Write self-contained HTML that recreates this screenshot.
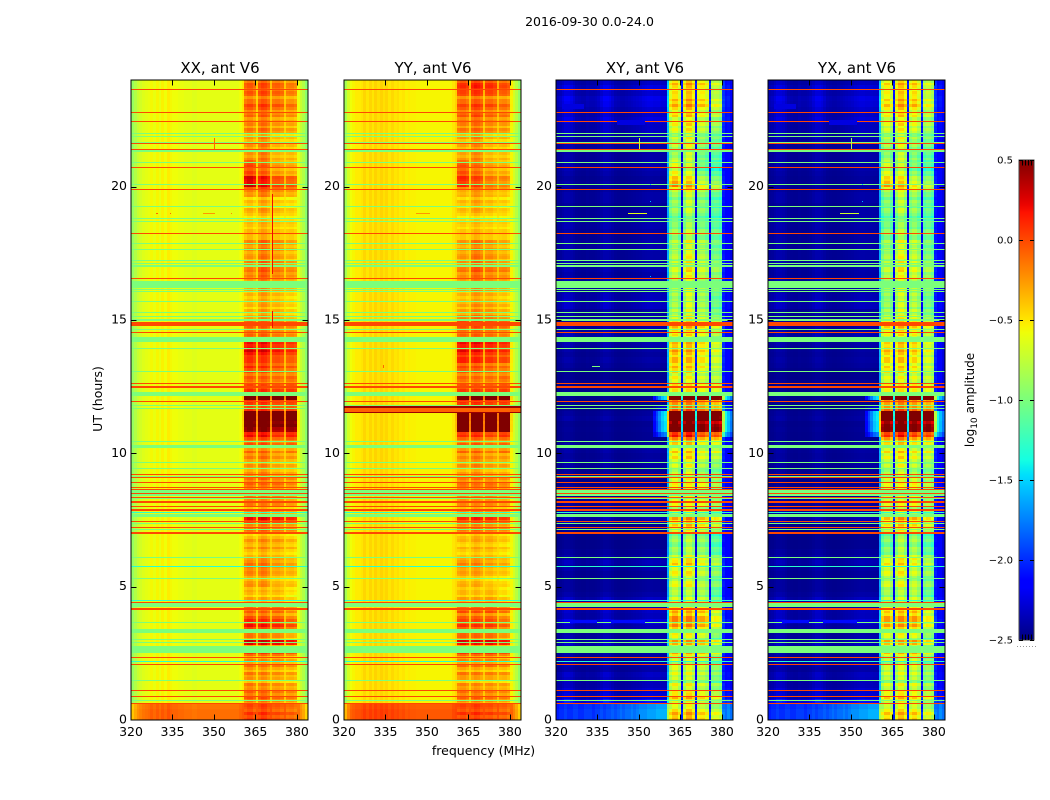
<!DOCTYPE html>
<html lang="en">
<head>
<meta charset="utf-8">
<title>2016-09-30 amplitude waterfall, ant V6</title>
<style>
html,body{margin:0;padding:0;background:#fff;width:1050px;height:800px;overflow:hidden}
svg{display:block}
text{font-family:"DejaVu Sans","Liberation Sans",sans-serif;fill:#000}
</style>
</head>
<body>
<svg id="fig" xmlns="http://www.w3.org/2000/svg" width="1050" height="800" viewBox="0 0 1050 800">
  <rect x="0" y="0" width="1050" height="800" fill="#fff"/>
  <text x="589.5" y="26" font-size="12.5" text-anchor="middle">2016-09-30 0.0-24.0</text>
  <text transform="translate(102,399) rotate(-90)" font-size="12.5" text-anchor="middle">UT (hours)</text>
  <text x="483.5" y="755" font-size="12.5" text-anchor="middle">frequency (MHz)</text>
  <text transform="translate(974,400) rotate(-90)" font-size="12" text-anchor="middle">log<tspan font-size="9" dy="3">10</tspan><tspan dy="-3"> amplitude</tspan></text>
  <g id="panels"></g>
  <g id="cbar"></g>
</svg>
<script>
// ---- chart data (log10 amplitude, UT hours, MHz) ----
const panelTitles = ['XX, ant V6','YY, ant V6','XY, ant V6','YX, ant V6'];
const xTickLabels = [320,335,350,365,380];
const yTickLabels = [0,5,10,15,20];
const colorbarTicks = [0.5,0.0,-0.5,-1.0,-1.5,-2.0,-2.5];

// one value per 1 MHz channel, 320..383
const profileXX = [-.9,-.8,-.72,-.68,-.64,-.62,-.6,-.56,-.6,-.55,-.6,-.54,-.58,-.52,-.56,-.58,-.58,-.6,-.6,-.62,-.62,-.62,-.64,-.64,-.62,-.62,-.62,-.62,-.62,-.62,-.62,-.62,-.62,-.62,-.62,-.62,-.62,-.62,-.62,-.58,-.52,-.28,-.22,-.22,-.3,-.45,-.25,-.18,-.2,-.28,-.42,-.28,-.26,-.26,-.3,-.45,-.3,-.28,-.28,-.33,-.6,-.72,-.8,-.95];
const profileYY = [-.85,-.68,-.58,-.55,-.52,-.52,-.5,-.45,-.5,-.45,-.5,-.44,-.48,-.44,-.48,-.45,-.5,-.46,-.5,-.48,-.52,-.5,-.54,-.52,-.54,-.54,-.55,-.55,-.55,-.55,-.55,-.55,-.55,-.55,-.55,-.55,-.55,-.55,-.55,-.5,-.45,-.26,-.22,-.22,-.28,-.42,-.24,-.18,-.2,-.26,-.42,-.24,-.22,-.22,-.28,-.42,-.26,-.24,-.24,-.3,-.55,-.68,-.78,-.92];
const profileXY = [-2.5,-2.5,-2.5,-2.5,-2.5,-2.5,-2.5,-2.5,-2.5,-2.5,-2.5,-2.5,-2.5,-2.5,-2.5,-2.5,-2.5,-2.5,-2.5,-2.5,-2.5,-2.5,-2.5,-2.5,-2.5,-2.5,-2.5,-2.5,-2.5,-2.5,-2.5,-2.5,-2.5,-2.5,-2.5,-2.5,-2.5,-2.5,-2.5,-2.5,-1.7,-.92,-.75,-.75,-.95,-2.2,-.92,-.68,-.68,-.88,-2.2,-.88,-.82,-.82,-.95,-2.15,-1.0,-.92,-.95,-1.05,-2.1,-2.2,-2.2,-2.3];
const profileYX = [-2.5,-2.5,-2.5,-2.5,-2.5,-2.5,-2.5,-2.5,-2.5,-2.5,-2.5,-2.5,-2.5,-2.5,-2.5,-2.5,-2.5,-2.5,-2.5,-2.5,-2.5,-2.5,-2.5,-2.5,-2.5,-2.5,-2.5,-2.5,-2.5,-2.5,-2.5,-2.5,-2.5,-2.5,-2.5,-2.5,-2.5,-2.5,-2.5,-2.5,-1.7,-1.0,-.82,-.82,-1.0,-2.2,-.92,-.7,-.7,-.88,-2.2,-.88,-.75,-.75,-.92,-2.15,-.98,-.88,-.9,-1.02,-2.1,-2.2,-2.2,-2.3];

// band response per channel
const gainAuto = [0,0,0,0,0,0,0,0,0,0,0,0,0,0,0,0,0,0,0,0,0,0,0,0,0,0,0,0,0,0,0,0,0,0,0,0,0,0,0,0,.1,1,1,1,1,.3,1,1,1,1,.3,1,1,1,1,.3,1,1,1,1,.1,0,0,0];
const gainCross = [0,0,0,0,0,0,0,0,0,0,0,0,0,0,0,0,0,0,0,0,0,0,0,0,0,0,0,0,0,0,0,0,0,0,0,0,0,0,0,0,.15,1,1,1,1,.55,1,1,1,1,.55,1,1,1,1,.55,1,1,1,1,.2,0,0,0];
const bgShape = [.5,.6,.8,1,1,.9,.7,.5,.45,.4,.4,.5,.45,.45,.5,.6,.8,1,1,.9,.7,.5,.45,.4,.4,.45,.5,.55,.6,.65,.7,.8,.85,.9,.9,.85,.85,.85,.8,.8,.6,0,0,0,0,0,0,0,0,0,0,0,0,0,0,0,0,0,0,0,.3,.4,.5,.5];
const wingShape = [0,0,0,0,0,0,0,0,0,0,0,0,0,0,0,0,0,0,0,0,0,0,0,0,0,0,0,0,0,0,0,0,0,0,0,.3,.5,.7,.9,1,1,0,0,0,0,0,0,0,0,0,0,0,0,0,0,0,0,0,0,0,1,.8,.6,.5];
// first-rows brightening of the cross hands per channel
const bottomCross = [.45,.5,.5,.55,.5,.5,.55,.55,.5,.5,.55,.55,.55,.5,.55,.55,.6,.55,.6,.6,.65,.6,.65,.7,.65,.7,.7,.75,.7,.75,.8,.8,.8,.85,.85,.85,.9,.9,.9,.9,.85,0,0,0,0,0,0,0,0,0,0,0,0,0,0,0,0,0,0,0,.3,.4,.5,.5];

// one value per 0.2 h of UT, from 0 h upwards
const bandXX = [.1,.1,.05,.1,.15,.15,.05,0,.05,0, .1,0,.25,.1,.45,.05,0,.3,.3,.1, .2,.1,-.05,-.1,-.05,0,0,.05,.1,.1, .05,-.05,.05,.05,-.05,.1,.1,.45,.05,0, .1,.15,.1,.1,.15,.1,.05,0,0,.1, .1,.2,.25,.45,.65,.8,.85,.9,.3,.3, .85,.35,.2,.15,.15,.2,.3,.3,.35,.5, .45,.2,.1,.15,.15,0,0,-.05,-.05,-.05, 0,0,.05,.15,.15,.15,.05,.05,.1,.1, .05,0,0,0,-.05,-.05,-.1,-.1,.05,.25, .4,.35,.15,.15,.1,.05,.05,.05,0,0, .05,.05,.05,.1,.15,.2,.1,.15,.2,.15];
const bandYY = [.08,.1,.05,.05,.1,.1,0,-.05,.05,-.05, .1,0,.25,.1,.4,.1,.05,.2,.2,.05, .25,.1,-.05,-.1,-.1,-.1,-.1,-.05,0,.05, 0,-.1,-.05,-.05,-.05,.05,.05,.35,0,0, .05,.1,.05,.1,.1,.05,0,0,0,.05, .1,.15,.15,.35,.8,.85,.9,.9,.35,.3, .9,.3,.15,.1,.1,.15,.2,.35,.3,.45, .45,.2,.1,.2,.25,.1,.05,0,-.05,-.05, 0,0,.05,.1,.15,.1,.05,.05,.05,.05, 0,-.05,-.05,-.05,-.1,-.1,-.1,-.1,-.05,.1, .2,.2,.1,.1,.05,0,0,0,-.05,0, .05,.05,.1,.15,.15,.2,.1,.2,.35,.25];
const bandXY = [.35,.35,0,.1,.25,.1,.05,-.05,0,.05, 0,-.05,.3,.1,.3,0,0,.3,.4,.3, .4,.1,0,-.1,-.05,.05,0,.1,.1,.25, .2,-.1,-.1,-.1,-.15,0,.3,.4,0,0, .1,.2,.1,.1,.1,0,0,0,.05,.2, .2,.2,.5,.85,1.35,1.3,1.45,1.55,.6,.45, 1.5,.2,.1,.05,.05,.15,.25,.3,.2,.4, .35,.1,.1,.3,.2,.1,.05,-.05,-.05,-.05, 0,0,-.05,.05,.1,.1,0,0,0,0, -.05,0,-.05,-.1,-.15,-.15,-.15,-.15,-.1,.2, .3,.05,-.05,-.15,-.1,-.1,-.1,0,0,0, 0,.1,.05,.15,.15,.3,.3,.1,.2,.25];
const bandYX = [.3,.32,0,.1,.22,.1,.05,-.05,0,.05, 0,-.05,.28,.1,.3,0,0,.28,.38,.28, .35,.1,0,-.1,-.05,.05,0,.1,.1,.22, .2,-.1,-.1,-.1,-.15,0,.28,.38,0,0, .1,.18,.1,.1,.1,0,0,0,.05,.18, .2,.2,.5,.85,1.35,1.3,1.45,1.55,.6,.45, 1.5,.2,.1,.05,.05,.15,.22,.28,.2,.38, .32,.1,.1,.28,.2,.1,.05,-.05,-.05,-.05, 0,0,-.05,.05,.1,.1,0,0,0,0, -.05,0,-.05,-.1,-.15,-.15,-.15,-.15,-.1,.18, .28,.05,-.05,-.15,-.1,-.1,-.1,0,0,0, 0,.1,.05,.12,.15,.28,.28,.1,.18,.22];
const bgXY = [0,0,0,.8,.45,.4,.3,.3,.35,.2, .25,.2,.2,.3,.35,.25,.2,.3,.5,.3, .35,.3,.35,.2,.15,.15,.15,.15,.2,.3, .2,.15,.1,.1,.1,.12,.12,.3,.2,.2, .15,.2,.1,.15,.1,.1,.15,.2,.2,.15, .2,.2,.1,.1,.12,.1,.2,.15,.1,.1, .1,.1,.1,.12,.1,.1,.15,.2,.15,.2, .25,.3,.3,.25,.15,.2,.2,.35,.35,.3, .25,.3,.25,.2,.25,.25,.2,.2,.25,.25, .2,.2,.25,.25,.2,.2,.15,.2,.2,.15, .2,.15,.2,.25,.25,.2,.2,.25,.25,.3, .35,.35,.5,.4,.4,.5,.55,.4,.5,.35];
const bgYX = [0,0,0,.8,.42,.4,.3,.3,.32,.2, .25,.2,.2,.3,.32,.25,.2,.28,.45,.3, .32,.3,.32,.2,.15,.15,.15,.15,.18,.28, .2,.15,.1,.1,.1,.12,.12,.28,.2,.2, .15,.18,.1,.15,.1,.1,.15,.18,.18,.15, .18,.18,.1,.1,.12,.1,.18,.15,.1,.1, .1,.1,.1,.12,.1,.1,.15,.18,.15,.18, .22,.28,.28,.22,.15,.18,.18,.32,.32,.28, .22,.28,.22,.2,.22,.22,.2,.2,.22,.22, .2,.2,.22,.22,.2,.2,.15,.2,.2,.15, .18,.15,.18,.22,.22,.2,.2,.22,.22,.28, .32,.32,.45,.38,.38,.45,.5,.38,.45,.32];
const bgScale = 0.6;
// broadband lift at start of the day (first rows only)
const wideAuto = [.5,.5,.48];
const wideCross = [1,1,.95];
// autocorrelation band sits a little lower outside the main burst
const autoBandOffset = -0.08;
const autoFineScale = 0.7;

// finer streak structure in the active band: one value per 0.1 h
const fineStreak = [.05,-.05,.1,-.1,.05,.1,-.1,.05,.15,-.05,.1,-.1,.0,.15,-.15,.1,-.05,.15,-.1,.05,.1,-.15,.15,-.05,-.1,.15,.05,-.15,.1,.2,
-.15,.1,.15,-.1,-.05,.2,-.1,.1,.2,-.05,.05,-.1,.1,.05,-.05,.1,-.1,.05,.05,-.05,.1,.05,-.1,-.05,.05,.1,-.05,.05,.1,-.05,
.05,-.05,-.05,.05,.1,-.1,-.05,.1,.05,-.1,.05,.15,-.05,.05,-.15,.1,.15,-.05,.1,-.1,.05,.05,-.1,-.05,.1,.05,-.05,.05,.1,-.1,
.15,-.05,.05,-.1,.05,.15,-.1,.05,.1,-.05,.15,-.1,.05,.1,-.15,.05,.05,-.05,.0,.05,.05,-.1,.1,.0,.05,-.05,.1,-.05,.05,.1,
-.05,.1,-.15,.05,.1,.15,-.1,.05,.15,-.05,.1,.05,.1,-.1,.05,.05,-.05,.1,.05,-.1,-.05,.05,.1,-.05,.15,.05,-.05,.1,-.1,.05,
.1,.05,-.1,.05,-.1,.1,.05,.05,-.05,.1,-.1,.05,.05,-.05,.0,.1,.05,-.05,.1,.05,-.05,.05,-.1,.1,.05,-.05,.05,-.1,.05,.1,
-.05,-.05,.05,.05,-.1,.0,.05,-.05,-.1,.05,.1,.15,-.1,.05,.15,-.05,.1,.05,-.1,.05,.1,-.05,.05,.1,-.05,.05,-.1,.05,.05,-.05,
.1,-.05,.05,.1,-.1,.05,.15,-.05,.1,-.1,.05,.15,-.1,.1,.05,-.05,.15,.05,-.1,.1,.15,-.05,.1,-.1,.1,.15,-.05,.05,.15,-.05];
// slower per-sub-band drift: one value per hour of UT
const tiltSub1 = [.05,.05,.05,.1,.05,.05,-.05,0,.05,0,.05,.05,.05,.1,.05,-.05,-.05,-.05,-.1,-.05,.25,0,.05,.05];
const tiltSub2 = [.05,0,0,.05,0,.05,0,.05,0,.05,.05,.05,0,.05,.05,.05,.1,.1,-.05,.05,.1,.1,.1,.1];
const tiltSub3 = [0,0,.05,.05,.05,-.05,0,0,.05,-.05,-.05,0,0,0,0,0,0,0,-.1,-.05,-.1,-.1,0,.05];
const tiltSub4 = [-.05,-.05,-.05,-.1,-.1,-.1,-.1,-.05,-.05,-.05,.05,.05,.05,-.05,-.05,-.1,-.05,-.1,-.1,-.1,-.15,-.1,-.05,-.05];

// flagged integrations: amplitude levels and UT hours
const redLevel = 0.0;
const greenLevel = -1.0;
const cyanLevel = -1.3;
const redLineUT = [23.65,22.79,22.45,21.63,21.40,20.73,19.90,18.25,16.56,14.78,14.54,12.63,11.95,9.20,9.09,8.91,8.71,8.63,8.51,8.36,8.01,7.91,7.86,7.43,7.23,4.41,2.33,2.09,1.11,0.89,0.63];
const greenLineUT = [22.00,21.89,21.66,20.91,20.09,19.25,18.81,18.70,17.88,17.65,17.24,17.13,16.16,16.05,15.70,15.29,15.14,14.63,13.94,13.08,11.80,11.69,10.45,9.66,9.44,9.15,8.29,7.38,7.15,6.10,5.31,3.66,3.03,2.91,1.49,0.74];
const cyanLineUT = [7.80,5.75,4.49,2.19];
const redBandStart = [14.81,12.44,8.11,6.94,4.10];
const redBandEnd = [14.89,12.51,8.18,7.02,4.17];
const greenBandStart = [21.30,16.97,16.19,14.96,14.15,12.15,10.20,8.37,7.60,4.21,3.26,2.49];
const greenBandEnd = [21.38,17.03,16.46,15.01,14.33,12.27,10.31,8.66,7.69,4.39,3.38,2.74];

// isolated features (panel index, frequency span, UT span, level)
const speckPanel =   [0,0,0,0,0,0,0,1,1,1,1,1,2,2,2,2,2,2,2,2,2,2,2,3,3,3,3,3,3,3,3];
const speckMHzFrom = [350,371,371,329,334,346,356,346,334,320,320,320,346,335,354,354,354,350,325,340,322,342,333,346,354,354,350,325,340,322,342];
const speckMHzTo =   [350.4,371.4,371.4,329.6,334.6,350.5,356.6,351,334.6,384,384,384,353,336,354.5,354.5,354.5,350.4,335,352,330,352,336,353,354.5,354.5,350.4,335,352,330,352];
const speckUTFrom =  [21.4,16.7,14.7,18.95,18.95,18.95,18.95,18.95,13.2,11.5,11.7,11.49,18.95,13.22,20.05,19.4,16.6,21.4,3.62,3.62,22.9,22.3,13.22,18.95,20.05,19.4,21.4,3.62,3.62,22.9,22.3];
const speckUTTo =    [21.8,19.7,15.3,19.0,19.0,19.0,19.0,19.0,13.3,11.7,11.74,11.53,19.0,13.27,20.1,19.45,16.65,21.8,3.74,3.74,23.1,22.5,13.27,19.0,20.1,19.45,21.8,3.74,3.74,23.1,22.5];
const speckLevel =   [-.1,.2,.2,-.1,-.1,-.25,-.2,-.25,-.1,-.08,.42,.42,-.62,-1.0,-1.6,-1.6,-1.6,-.7,-2.1,-2.1,-2.25,-2.25,-1.0,-.7,-1.6,-1.6,-.8,-2.1,-2.1,-2.25,-2.25];

// ---- layout ----
const SVGNS = 'http://www.w3.org/2000/svg';
const panelLeft = [131,344,556,768];
const plotW = 177, plotTop = 80, plotBottom = 720;
const rowHours = 0.2, rowCount = 120, chanCount = 64;
const fMin = 320, fMax = 384, utMax = 24;

function xAxis(p, mhz){ return panelLeft[p] + (mhz - fMin) / (fMax - fMin) * plotW; }
function yAxis(ut){ return plotBottom - ut / utMax * (plotBottom - plotTop); }

function interp(t, pts){
  for (let i = 1; i < pts.length; i++) {
    if (t <= pts[i][0]) {
      const a = pts[i-1], b = pts[i];
      return a[1] + (b[1]-a[1]) * (t-a[0]) / (b[0]-a[0]);
    }
  }
  return pts[pts.length-1][1];
}
const jetR = [[0,0],[.35,0],[.66,1],[.89,1],[1,.5]];
const jetG = [[0,0],[.125,0],[.375,1],[.64,1],[.91,0],[1,0]];
const jetB = [[0,.5],[.11,1],[.34,1],[.65,0],[1,0]];
function jet(t){
  t = Math.max(0, Math.min(1, t));
  return 'rgb(' + Math.round(interp(t,jetR)*255) + ',' + Math.round(interp(t,jetG)*255) + ',' + Math.round(interp(t,jetB)*255) + ')';
}
function colorOf(v){ return jet((v + 2.5) / 3); }

function tiltFor(ch, r){
  const hour = Math.min(23, Math.floor(r * rowHours));
  if (ch >= 41 && ch <= 44) return tiltSub1[hour];
  if (ch >= 46 && ch <= 49) return tiltSub2[hour];
  if (ch >= 51 && ch <= 54) return tiltSub3[hour];
  if (ch >= 56 && ch <= 59) return tiltSub4[hour];
  return 0;
}

function cellValue(p, ch, r, half){
  const fine = fineStreak[r * 2 + half] + tiltFor(ch, r);
  if (p === 0 || p === 1) {
    const prof = p === 0 ? profileXX : profileYY;
    const band = p === 0 ? bandXX : bandYY;
    const wide = r < wideAuto.length ? wideAuto[r] * (1 - .6 * gainAuto[ch]) : 0;
    const level = band[r] >= .6 ? band[r] : band[r] + autoBandOffset;
    return prof[ch] + gainAuto[ch] * (level + autoFineScale * fine) + wide;
  }
  const prof = p === 2 ? profileXY : profileYX;
  const band = p === 2 ? bandXY : bandYX;
  const bg = p === 2 ? bgXY : bgYX;
  const lift = band[r] > .5 ? Math.min(1, (band[r] - .5) * 2) : 0;
  const bottom = r < wideCross.length ? wideCross[r] * bottomCross[ch] : 0;
  return prof[ch] + gainCross[ch] * (band[r] + fine) + bgScale * bgShape[ch] * bg[r] + wingShape[ch] * lift + bottom;
}

function addBar(parent, p, ut0, ut1, level){
  const y0 = Math.floor(yAxis(ut1));
  const y1 = Math.floor(yAxis(ut0));
  const x0 = Math.round(xAxis(p, fMin));
  const r = document.createElementNS(SVGNS,'rect');
  
  
  r.setAttribute('x', x0);
  r.setAttribute('y', y0);
  r.setAttribute('width', Math.round(xAxis(p, fMax)) - x0);
  r.setAttribute('height', Math.max(1, y1 - y0));
  r.setAttribute('fill', colorOf(level));
  parent.appendChild(r);
}

function addLine(parent, name, x1, y1, x2, y2, color, width){
  const l = document.createElementNS(SVGNS,'line');
  
  
  l.setAttribute('x1', x1);
  l.setAttribute('y1', y1);
  l.setAttribute('x2', x2);
  l.setAttribute('y2', y2);
  l.setAttribute('stroke', color);
  l.setAttribute('stroke-width', width || 1);
  parent.appendChild(l);
}

function addText(parent, name, x, y, size, anchor, str){
  const t = document.createElementNS(SVGNS,'text');
  
  
  t.setAttribute('x', x);
  t.setAttribute('y', y);
  t.setAttribute('font-size', size);
  t.setAttribute('text-anchor', anchor);
  t.textContent = str;
  parent.appendChild(t);
}

const panelsRoot = document.getElementById('panels');
panelTitles.forEach(function(title, p){
  const g = document.createElementNS(SVGNS,'g');
  
  
  panelsRoot.appendChild(g);

  const cells = document.createElementNS(SVGNS,'g');
  
  
  cells.setAttribute('shape-rendering', 'crispEdges');
  g.appendChild(cells);

  for (let r = 0; r < rowCount; r++) {
    const yTop = Math.round(yAxis((r + 1) * rowHours));
    const yBot = Math.round(yAxis(r * rowHours));
    const yMid = Math.round((yTop + yBot) / 2);
    for (let ch = 0; ch < chanCount; ch++) {
      let x0 = Math.round(xAxis(p, fMin + ch));
      let x1 = Math.round(xAxis(p, fMin + ch + 1));
      // the stripe channels are narrower than a full channel
      if (gainCross[ch] === .55) x0 += 1;
      if (gainCross[ch + 1] === .55) x1 += 1;
      const split = gainCross[ch] > 0;
      const spans = split ? [[yMid, yBot, 0], [yTop, yMid, 1]] : [[yTop, yBot, 0]];
      spans.forEach(function(s){
        const c = document.createElementNS(SVGNS,'rect');
        
        
        c.setAttribute('x', x0);
        c.setAttribute('y', s[0]);
        c.setAttribute('width', x1 - x0);
        c.setAttribute('height', s[1] - s[0]);
        c.setAttribute('fill', colorOf(cellValue(p, ch, r, s[2])));
        cells.appendChild(c);
      });
    }
  }

  const thinHours = 0.03;
  greenLineUT.forEach(function(u){ addBar(cells, p, u - thinHours, u, greenLevel); });
  greenBandStart.forEach(function(u, i){ addBar(cells, p, u, greenBandEnd[i], greenLevel); });
  cyanLineUT.forEach(function(u){ addBar(cells, p, u - thinHours, u, cyanLevel); });
  redLineUT.forEach(function(u){ addBar(cells, p, u - thinHours, u, redLevel); });
  redBandStart.forEach(function(u, i){ addBar(cells, p, u, redBandEnd[i], redLevel); });

  speckPanel.forEach(function(sp, i){
    if (sp !== p) return;
    const x0 = Math.round(xAxis(p, speckMHzFrom[i]));
    const x1 = Math.round(xAxis(p, speckMHzTo[i]));
    const y0 = Math.floor(yAxis(speckUTTo[i]));
    const y1 = Math.floor(yAxis(speckUTFrom[i]));
    const s = document.createElementNS(SVGNS,'rect');
    
    
    s.setAttribute('x', x0);
    s.setAttribute('y', y0);
    s.setAttribute('width', Math.max(1, x1 - x0));
    s.setAttribute('height', Math.max(1, y1 - y0));
    s.setAttribute('fill', colorOf(speckLevel[i]));
    cells.appendChild(s);
  });

  const left = panelLeft[p], right = left + plotW;

  xTickLabels.forEach(function(f){
    const x = Math.round(xAxis(p, f)) + .5;
    if (f !== fMin) {
      addLine(g, 'x-tick', x, plotBottom, x, plotBottom - 5.5, '#000');
      addLine(g, 'x-tick', x, plotTop, x, plotTop + 5.5, '#000');
    }
    addText(g, 'x-tick-label', xAxis(p, f), 736, 12.5, 'middle', String(f));
  });
  yTickLabels.forEach(function(u){
    const y = Math.round(yAxis(u)) + .5;
    if (u !== 0) {
      addLine(g, 'y-tick', left, y, left + 5.5, y, '#000');
      addLine(g, 'y-tick', right, y, right - 5.5, y, '#000');
    }
    addText(g, 'y-tick-label', left - 4, yAxis(u) + 3.5, 12.5, 'end', String(u));
  });

  const frame = document.createElementNS(SVGNS,'rect');
  
  
  frame.setAttribute('x', left);
  frame.setAttribute('y', plotTop);
  frame.setAttribute('width', plotW);
  frame.setAttribute('height', plotBottom - plotTop);
  frame.setAttribute('fill', 'none');
  frame.setAttribute('stroke', '#000');
  frame.setAttribute('stroke-width', '1');
  g.appendChild(frame);

  addText(g, 'panel-title', left + plotW / 2 + .5, 73, 15, 'middle', title);
});

// ---- colorbar ----
(function(){
  const cb = document.getElementById('cbar');
  const cbX = 1019, cbW = 15, cbTop = 160, cbBottom = 640;
  const cbMin = -2.5, cbMax = 0.5;
  function yCb(v){ return cbBottom - (v - cbMin) / (cbMax - cbMin) * (cbBottom - cbTop); }

  const defs = document.createElementNS(SVGNS,'defs');
  const grad = document.createElementNS(SVGNS,'linearGradient');
  grad.setAttribute('id', 'jetGrad');
  grad.setAttribute('x1', '0');
  grad.setAttribute('y1', '1');
  grad.setAttribute('x2', '0');
  grad.setAttribute('y2', '0');
  for (let i = 0; i <= 64; i++) {
    const st = document.createElementNS(SVGNS,'stop');
    st.setAttribute('offset', i / 64);
    st.setAttribute('stop-color', jet(i / 64));
    grad.appendChild(st);
  }
  defs.appendChild(grad);
  cb.appendChild(defs);

  const bar = document.createElementNS(SVGNS,'rect');
  
  
  bar.setAttribute('x', cbX);
  bar.setAttribute('y', cbTop);
  bar.setAttribute('width', cbW);
  bar.setAttribute('height', cbBottom - cbTop);
  bar.setAttribute('fill', 'url(#jetGrad)');
  bar.setAttribute('stroke', '#444');
  bar.setAttribute('stroke-width', '1');
  cb.appendChild(bar);

  colorbarTicks.forEach(function(v){
    const y = Math.round(yCb(v)) + .5;
    addLine(cb, 'colorbar-tick', cbX, y, cbX + 4, y, '#000');
    addLine(cb, 'colorbar-tick', cbX + cbW, y, cbX + cbW - 4, y, '#000');
    const label = (v < 0 ? '\u2212' : '') + Math.abs(v).toFixed(1);
    addText(cb, 'colorbar-tick-label', 1013, yCb(v) + 3.5, 10, 'end', label);
  });

  const minorTickOffsets = [3,6,9,12];
  minorTickOffsets.forEach(function(dx){
    addLine(cb, 'colorbar-minor-tick', cbX + dx + .5, cbTop, cbX + dx + .5, cbTop + 5.5, '#000');
    addLine(cb, 'colorbar-minor-tick', cbX + dx + .5, cbBottom, cbX + dx + .5, cbBottom - 5.5, '#000');
  });
  const dotOffsets = [-2,1,4,7,10,13,16];
  dotOffsets.forEach(function(dx){
    const d = document.createElementNS(SVGNS,'rect');
    
    
    d.setAttribute('x', cbX + dx);
    d.setAttribute('y', 646);
    d.setAttribute('width', 1);
    d.setAttribute('height', 1);
    d.setAttribute('fill', '#999');
    cb.appendChild(d);
  });
})();
</script>
</body>
</html>
